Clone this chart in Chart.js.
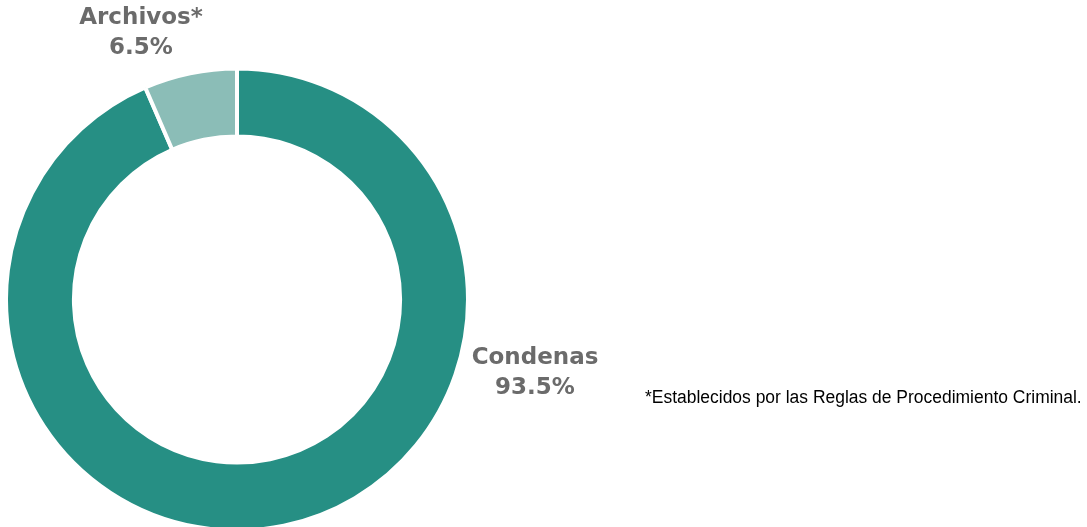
<!DOCTYPE html>
<html>
<head>
<meta charset="utf-8">
<script src="https://cdn.jsdelivr.net/npm/chart.js@4"></script>
<style>
    html, body { margin:0; padding:0; background:#fff; }
    #wrap { position:relative; width:1087px; height:527px; }
    #nota { position:absolute; left:645px; top:387px; font-family:"Liberation Sans",Arial,sans-serif; font-size:18px; color:#000; white-space:nowrap; transform:scaleX(0.97); transform-origin:left top; }
</style>
</head>
<body>
<div id="wrap">
    <canvas id="chart-casos" width="1087" height="527"></canvas>
    <div id="nota">*Establecidos por las Reglas de Procedimiento Criminal.</div>
</div>
<script>
const categorias = ['Condenas', 'Archivos*'];
const porcentajes = [93.5, 6.5];
const colores = ['#268F84', '#8BBDB7'];

// etiquetas fuera del anillo
const posEtiquetas = [{x:535, y:358}, {x:141, y:18}];
const etiquetas = {
    id:'etiquetas',
    afterDatasetsDraw(chart) {
        const ctx = chart.ctx;
        ctx.save();
        ctx.fillStyle = '#6B6B6B';
        ctx.font = 'bold 23px "DejaVu Sans"';
        ctx.textAlign = 'center';
        ctx.textBaseline = 'middle';
        categorias.forEach((c, i) => {
            const p = posEtiquetas[i];
            ctx.fillText(c, p.x, p.y);
            ctx.fillText(porcentajes[i].toFixed(1) + '%', p.x, p.y + 30);
        });
        ctx.restore();
    }
};

new Chart(document.getElementById('chart-casos'), {
    type:'doughnut',
    data:{
        labels:categorias,
        datasets:[{data:porcentajes, backgroundColor:colores, borderColor:'#fff', borderWidth:4, hoverOffset:0}]
    },
    options:{
        responsive:false,
        animation:false,
        radius:231,
        cutout:'70.6%',
        layout:{padding:{left:6, top:72, right:619, bottom:0}},
        plugins:{legend:{display:false}, tooltip:{enabled:false}}
    },
    plugins:[etiquetas]
});
</script>
</body>
</html>
